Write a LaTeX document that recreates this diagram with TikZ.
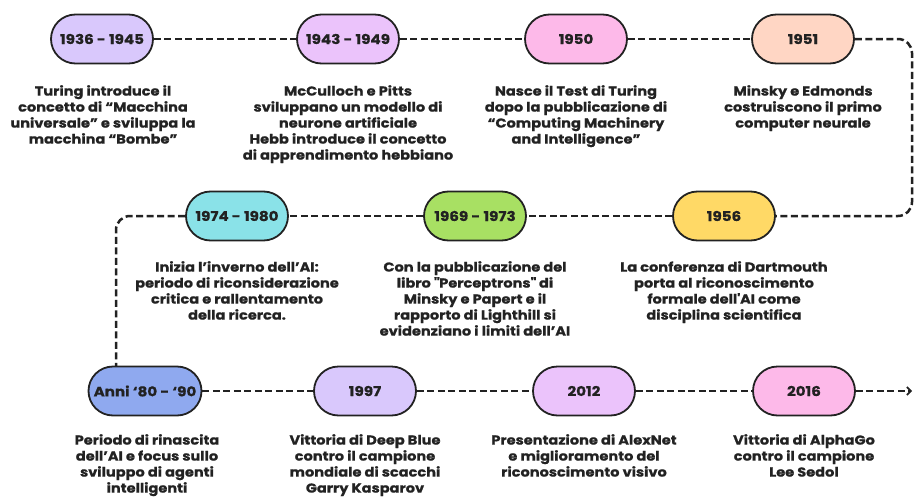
\documentclass[tikz,border=0pt]{standalone}
\usepackage{fontspec}
\setmainfont{Poppins}
\newfontfamily\tlfont{Poppins}[FakeStretch=1.12, FakeBold=0.6]
\usetikzlibrary{arrows.meta}

\definecolor{lilac}{HTML}{D9C8FC}
\definecolor{orchid}{HTML}{EBC3FB}
\definecolor{candy}{HTML}{FDB9E9}
\definecolor{peach}{HTML}{FFD6C4}
\definecolor{sunny}{HTML}{FFD966}
\definecolor{lime}{HTML}{A8E063}
\definecolor{aqua}{HTML}{8AE2E8}
\definecolor{cornflower}{HTML}{8FA9EF}
\definecolor{ink}{HTML}{222222}

\begin{document}
\begin{tikzpicture}[x=1pt, y=-1pt,
  pill/.style={draw=ink, line width=1.8pt, rounded corners=24.5pt, minimum width=102pt, minimum height=49pt, inner sep=0pt, text=ink, font=\tlfont\fontsize{13.5}{16}\selectfont\bfseries},
  desc/.style={anchor=north, align=center, inner sep=0pt, text=ink, font=\tlfont\fontsize{13}{16}\selectfont\bfseries},
  link/.style={draw=ink, line width=2.5pt, dash pattern=on 7pt off 3.5pt}]
\useasboundingbox (0,0) rectangle (914,498);

\node[pill, fill=lilac] (y36) at (102,39) {1936 - 1945};
\node[pill, fill=orchid] (y43) at (348,39) {1943 - 1949};
\node[pill, fill=candy] (y50) at (576,39) {1950};
\node[pill, fill=peach] (y51) at (803,39) {1951};
\node[pill, fill=sunny] (y56) at (724,216) {1956};
\node[pill, fill=lime] (y69) at (475,216) {1969 - 1973};
\node[pill, fill=aqua] (y74) at (237,216) {1974 - 1980};
\node[pill, fill=cornflower, minimum width=113pt] (y80) at (145,391) {Anni ‘80 - ‘90};
\node[pill, fill=lilac] (y97) at (365,391) {1997};
\node[pill, fill=orchid] (y12) at (584,391) {2012};
\node[pill, fill=candy] (y16) at (804,391) {2016};

\node[desc] (d36) at (103,85) {Turing introduce il\\ concetto di “Macchina\\ universale” e sviluppa la\\ macchina “Bombe”};
\node[desc] (d43) at (348,85) {McCulloch e Pitts\\ sviluppano un modello di\\ neurone artificiale\\ Hebb introduce il concetto\\ di apprendimento hebbiano};
\node[desc] (d50) at (576,85) {Nasce il Test di Turing\\ dopo la pubblicazione di\\ “Computing Machinery\\ and Intelligence”};
\node[desc] (d51) at (803,85) {Minsky e Edmonds\\ costruiscono il primo\\ computer neurale};
\node[desc] (d56) at (724,261) {La conferenza di Dartmouth\\ porta al riconoscimento\\ formale dell\textquotesingle AI come\\ disciplina scientifica};
\node[desc] (d69) at (475,261) {Con la pubblicazione del\\ libro \textquotedbl Perceptrons\textquotedbl\ di\\ Minsky e Papert e il\\ rapporto di Lighthill si\\ evidenziano i limiti dell’AI};
\node[desc] (d74) at (237,261) {Inizia l’inverno dell’AI:\\ periodo di riconsiderazione\\ critica e rallentamento\\ della ricerca.};
\node[desc] (d80) at (147,434) {Periodo di rinascita\\ dell’AI e focus sullo\\ sviluppo di agenti\\ intelligenti};
\node[desc] (d97) at (365,434) {Vittoria di Deep Blue\\ contro il campione\\ mondiale di scacchi\\ Garry Kasparov};
\node[desc] (d12) at (584,434) {Presentazione di AlexNet\\ e miglioramento del\\ riconoscimento visivo};
\node[desc] (d16) at (804,434) {Vittoria di AlphaGo\\ contro il campione\\ Lee Sedol};

\coordinate (turnR) at (912,128);
\coordinate (turnL) at (116,216);
\coordinate (top80) at (116,366.5);
\coordinate (tail) at (912,391);

\draw[link] (y36) -- (y43);
\draw[link] (y43) -- (y50);
\draw[link] (y50) -- (y51);
\draw[link, rounded corners=14pt] (y51.east) -| (turnR) |- (y56.east);
\draw[link] (y56) -- (y69);
\draw[link] (y69) -- (y74);
\draw[link, rounded corners=14pt] (y74.west) -- (turnL) -- (top80);
\draw[link] (y80) -- (y97);
\draw[link] (y97) -- (y12);
\draw[link] (y12) -- (y16);
\draw[link, -{Straight Barb[length=4pt, width=8pt, line width=1.6pt]}] (y16.east) -- (tail);
\end{tikzpicture}
\end{document}
